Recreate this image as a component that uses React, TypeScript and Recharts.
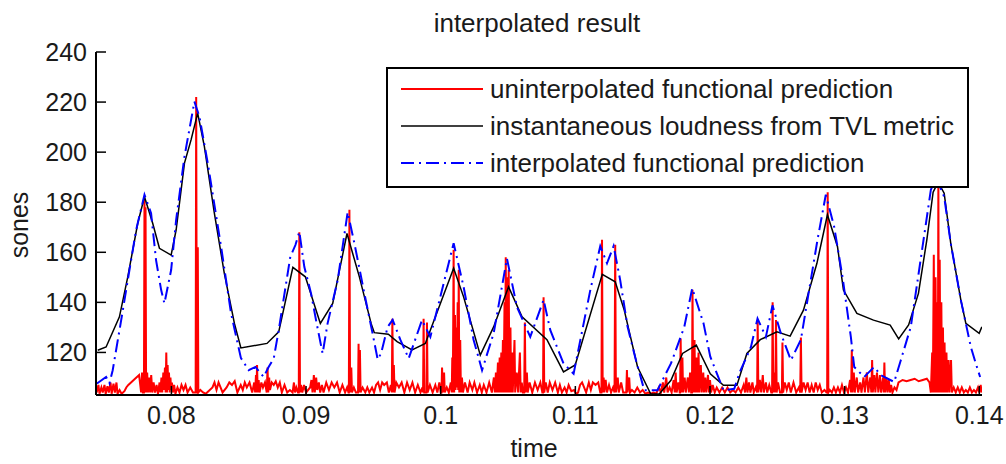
import React from 'react';
import { LineChart, Line, XAxis, YAxis, Legend } from 'recharts';

const FONT = '"Liberation Sans", Arial, Helvetica, sans-serif';

const chartTitle = 'interpolated result';
const xLabel = 'time';
const yLabel = 'sones';
const xDomain: [number, number] = [0.0744, 0.1402];
const yDomain: [number, number] = [103, 240];
const xTicks = [0.08, 0.09, 0.1, 0.11, 0.12, 0.13, 0.14];
const yTicks = [120, 140, 160, 180, 200, 220, 240];
const seriesNames = [
  'uninterpolated functional prediction',
  'instantaneous loudness from TVL metric',
  'interpolated functional prediction',
];

// [time (s), sones]
const uninterpolated: [number, number][] = [
  [0.07445,104],[0.07458,107],[0.07466,103.5],[0.07480,106],[0.07490,104],[0.07503,107],[0.07512,103.5],[0.07525,106.5],[0.07535,104],[0.07548,108],[0.07556,103.5],[0.07570,107.5],[0.07580,104],[0.07592,108],[0.07600,103.5],[0.07615,105],[0.07630,103.5],[0.07651,104.5],[0.07665,106],[0.07680,107],[0.07700,108],[0.07720,109],[0.07740,110],[0.07760,111],[0.07775,104],[0.07782,112],[0.07788,104],[0.07796,104],[0.07800,181],[0.07804,104],[0.07808,178],[0.07812,104],[0.07820,112],[0.07826,104],[0.07835,110],[0.07842,104],[0.07850,111],[0.07858,104],[0.07868,108],[0.07878,104],[0.07890,107],[0.07900,103.5],[0.07912,108],[0.07918,104],[0.07926,110],[0.07932,104],[0.07940,112],[0.07945,105],[0.07952,114],[0.07957,104],[0.07962,120],[0.07967,104],[0.07972,115],[0.07977,105],[0.07982,112],[0.07987,104],[0.07993,110],[0.07998,105],[0.08004,108],[0.08010,104],[0.08020,107],[0.08030,103.5],[0.08045,106],[0.08060,104],[0.08075,107],[0.08090,105],[0.08105,107],[0.08120,104],[0.08140,106],[0.08160,104],[0.08175,104],[0.08180,104],[0.08184,222],[0.08189,104],[0.08193,104],[0.08196,162],[0.08200,104],[0.08215,105],[0.08235,104],[0.08255,103.5],[0.08305,106],
  [0.08320,108],[0.08335,105],[0.08350,108],[0.08365,106],[0.08380,104],[0.08410,106],[0.08430,108],[0.08450,107],[0.08470,108.5],[0.08490,104],[0.08515,107],[0.08530,105],[0.08545,108],[0.08560,106],[0.08580,108],[0.08600,104],[0.08615,108],[0.08622,104],[0.08628,111],[0.08632,104],[0.08636,115],[0.08641,104],[0.08648,109],[0.08655,104],[0.08668,108],[0.08680,106],[0.08695,108],[0.08708,104],[0.08714,114],[0.08719,104],[0.08726,110],[0.08732,105],[0.08745,108],[0.08760,107],[0.08775,108.5],[0.08790,106],[0.08805,108],[0.08820,104],[0.08840,107],[0.08860,104],[0.08880,105],[0.08900,104],[0.08910,108],[0.08918,104],[0.08928,106],[0.08940,104],[0.08946,104],[0.08950,168],[0.08955,104],[0.08962,107],[0.08972,104],[0.08985,107],[0.09000,104],[0.09030,106],[0.09040,109],[0.09048,104],[0.09058,111],[0.09065,104],[0.09075,110],[0.09083,105],[0.09095,108],[0.09105,104],[0.09118,107],[0.09130,104],[0.09150,108],[0.09170,105],[0.09190,108],[0.09210,106],[0.09230,108],[0.09250,104],[0.09270,107],[0.09290,104],[0.09305,106],[0.09315,104],[0.09318,104],[0.09322,177],[0.09327,104],[0.09336,114],[0.09341,104],[0.09355,106],[0.09370,104],[0.09386,104],[0.09390,123.5],[0.09394,104],[0.09400,121],[0.09405,104],[0.09420,106],[0.09440,104],[0.09455,106],[0.09470,104],[0.09490,106],[0.09505,104],[0.09520,107],[0.09535,108],[0.09550,105],[0.09565,108],[0.09580,107],[0.09600,108],[0.09615,104],[0.09630,107],[0.09637,104],[0.09641,133.5],[0.09646,104],[0.09652,115],[0.09657,104],[0.09670,108],[0.09690,106],[0.09710,108],[0.09730,104],[0.09750,108],[0.09770,105],[0.09790,108],[0.09810,104],[0.09830,107],[0.09850,104],[0.09865,106],[0.09869,104],[0.09873,133.5],[0.09878,104],[0.09890,104],[0.09894,104],[0.09898,132],[0.09903,104],[0.09920,107],[0.09940,104],[0.09960,107],[0.09975,104],[0.09990,108],[0.10000,104],[0.10006,104],[0.10010,114],[0.10016,104],[0.10025,112],[0.10030,104],[0.10045,106],[0.10060,104],[0.10075,108],[0.10082,104],[0.10086,118],[0.10090,104],[0.10096,161],[0.10100,104],[0.10106,135],[0.10110,105],[0.10116,130],[0.10120,106],[0.10126,140],[0.10130,105],[0.10134,153],[0.10138,104],[0.10145,125],[0.10150,104],[0.10158,110],[0.10165,104],[0.10180,108],[0.10200,104],[0.10215,108],[0.10235,105],[0.10250,108],[0.10270,104],[0.10290,107],[0.10305,104],[0.10320,107],[0.10340,104],[0.10360,108],[0.10380,104],[0.10395,110],[0.10402,104],[0.10410,112],[0.10416,104],[0.10425,116],[0.10430,104],[0.10438,118],[0.10443,104],[0.10450,120],[0.10455,104],[0.10462,125],[0.10467,104],[0.10474,140],[0.10478,104],[0.10483,158],[0.10488,104],[0.10494,150],[0.10499,104],[0.10505,153],[0.10510,104],[0.10518,130],[0.10523,104],[0.10530,120],[0.10535,104],[0.10548,125],[0.10553,104],[0.10565,112],[0.10575,104],[0.10588,120],[0.10594,104],[0.10602,108],[0.10610,104],[0.10620,104],[0.10625,132],[0.10630,104],[0.10640,112],[0.10646,104],[0.10660,108],[0.10680,104],[0.10700,108],[0.10720,105],[0.10740,108],[0.10755,104],[0.10760,104],[0.10764,142],[0.10769,104],[0.10780,108],[0.10795,104],[0.10810,108],[0.10830,105],[0.10850,108],[0.10870,104],[0.10885,107],[0.10900,104],[0.10920,106],[0.10935,104],[0.10950,107],[0.10970,104.5],[0.10990,105],[0.11005,103.5],[0.11020,104],[0.11035,107],[0.11050,108],[0.11065,106],[0.11080,104],[0.11100,108],[0.11115,105],[0.11130,108],[0.11150,107],[0.11170,108],[0.11185,104],[0.11194,104],[0.11198,165],[0.11203,104],[0.11210,110],[0.11215,104],[0.11225,109],[0.11235,104],[0.11250,107],[0.11265,104],[0.11280,106],[0.11291,104],[0.11296,163],[0.11301,104],[0.11315,110],[0.11322,104],[0.11340,108],[0.11355,104],[0.11378,104],[0.11383,113],[0.11388,104],[0.11400,110],[0.11406,104],[0.11420,105],[0.11440,104],[0.11460,106],[0.11480,104],[0.11500,105],[0.11520,103.5],[0.11540,104],[0.11560,103.5],[0.11580,104],[0.11600,103.5],[0.11620,106],[0.11635,104],[0.11650,108],[0.11660,104],[0.11675,110],[0.11685,104],[0.11700,106],[0.11715,104],[0.11730,109],[0.11738,104],[0.11745,112],[0.11752,104],[0.11765,108],[0.11775,104],[0.11778,104],[0.11782,125.6],[0.11787,104],[0.11795,118],[0.11800,104],[0.11812,110],[0.11820,104],[0.11835,110],[0.11843,104],[0.11852,112],[0.11860,104],[0.11866,104],[0.11870,145],[0.11875,104],[0.11885,125],[0.11890,104],[0.11900,118],[0.11905,104],[0.11915,120],[0.11920,104],[0.11932,115],[0.11938,104],[0.11950,112],[0.11955,104],[0.11965,110],[0.11972,104],[0.11985,111],[0.11992,104],[0.12000,109],[0.12008,104],[0.12020,107],[0.12035,104],[0.12050,106],[0.12070,104],[0.12090,106],[0.12110,104],[0.12130,106],[0.12150,104],[0.12170,105],[0.12190,104],[0.12210,106],[0.12230,104],[0.12250,107],[0.12260,104],[0.12270,110],[0.12278,104],[0.12290,108],[0.12300,104],[0.12315,108],[0.12325,104],[0.12340,106],[0.12350,104],[0.12354,133],[0.12359,104],[0.12370,109],[0.12380,104],[0.12392,111],[0.12400,104],[0.12415,108],[0.12425,104],[0.12440,107],[0.12455,104],[0.12461,104],[0.12465,140],[0.12470,104],[0.12480,112],[0.12485,104],[0.12490,133],[0.12495,104],[0.12505,108],[0.12520,104],[0.12534,104],[0.12538,124],[0.12543,104],[0.12555,108],[0.12570,105],[0.12585,108],[0.12600,104],[0.12620,108],[0.12640,104],[0.12660,106],[0.12670,104],[0.12675,126],[0.12680,104],[0.12695,108],[0.12710,105],[0.12725,108],[0.12740,104],[0.12755,107],[0.12770,104],[0.12785,108],[0.12800,105],[0.12815,107],[0.12830,104],[0.12850,105],[0.12865,104],[0.12870,104],[0.12874,184],[0.12879,104],[0.12890,105],[0.12905,104],[0.12920,106],[0.12935,104],[0.12950,106],[0.12965,104],[0.12980,107],[0.12995,104],[0.13010,106],[0.13025,104],[0.13040,109],[0.13048,104],[0.13053,121],[0.13058,104],[0.13068,112],[0.13075,104],[0.13090,110],[0.13100,104],[0.13115,108],[0.13125,104],[0.13140,110],[0.13150,104],[0.13165,112],[0.13175,104],[0.13190,110],[0.13198,104],[0.13204,117],[0.13209,104],[0.13220,111],[0.13228,104],[0.13240,112],[0.13250,104],[0.13262,111],[0.13270,104],[0.13285,110],[0.13290,104],[0.13295,116],[0.13300,104],[0.13310,110],[0.13318,104],[0.13328,109],[0.13336,104],[0.13345,107],[0.13355,104],[0.13370,106],[0.13385,105],[0.13400,108],[0.13430,109],[0.13460,108.5],[0.13490,109],[0.13520,109.5],[0.13550,108.5],[0.13580,109],[0.13610,109.5],[0.13630,108],[0.13640,104],[0.13650,120],[0.13655,104],[0.13662,159],[0.13667,104],[0.13675,150],[0.13680,104],[0.13688,140],[0.13692,104],[0.13696,189],[0.13700,104],[0.13706,157],[0.13711,104],[0.13718,140],[0.13723,104],[0.13730,130],[0.13735,104],[0.13742,124],[0.13747,104],[0.13756,120],[0.13762,104],[0.13772,117],[0.13778,104],[0.13790,117],[0.13796,104],[0.13810,106],[0.13825,104],[0.13840,106],[0.13855,104],[0.13870,106],[0.13885,104],[0.13900,105],[0.13915,104],[0.13930,106],[0.13945,104],[0.13960,105],[0.13975,104],[0.13990,106],[0.14000,104],[0.14010,107],[0.14018,104],
];

const loudnessTVL: [number, number][] = [
  [0.07453,120.9],[0.07515,122.2],[0.07614,134.2],[0.07676,150.2],[0.07750,171.6],[0.07800,182.2],[0.07861,171.6],[0.07911,161.6],[0.07998,158.9],[0.08035,168.9],[0.08097,195.6],[0.08146,204.9],[0.08195,215.6],[0.08245,202.2],[0.08319,175.6],[0.08393,151.6],[0.08468,131.6],[0.08516,121.8],[0.08710,123.6],[0.08797,128.2],[0.08902,154],[0.08995,150.2],[0.09106,131.6],[0.09198,139.6],[0.09304,167.5],[0.09396,150.2],[0.09483,131.6],[0.09507,127.9],[0.09611,127.3],[0.09676,124.3],[0.09787,121],[0.09886,123.6],[0.10096,153.6],[0.10170,142.2],[0.10294,118.9],[0.10393,130.2],[0.10504,146.2],[0.10604,134.2],[0.10789,125.1],[0.10912,112.2],[0.10999,115],[0.11200,151.2],[0.11296,148.2],[0.11363,136.9],[0.11462,114.2],[0.11560,103.4],[0.11623,103.4],[0.11710,108.9],[0.11796,119.6],[0.11898,122.9],[0.12002,111.5],[0.12100,106.9],[0.12200,106.9],[0.12274,119.6],[0.12373,125.1],[0.12497,128.2],[0.12595,126.5],[0.12694,136.9],[0.12794,155.6],[0.12872,175],[0.12947,162.2],[0.12991,144.9],[0.13091,135.6],[0.13214,132.9],[0.13338,130.9],[0.13401,125.4],[0.13475,131],[0.13548,143.6],[0.13610,164.9],[0.13657,184],[0.13694,188],[0.13739,183.6],[0.13788,163.6],[0.13863,140.9],[0.13900,131.6],[0.13999,127.6],[0.14019,130.2],
];

const interpolated: [number, number][] = [
  [0.07447,107.6],[0.07515,110.2],[0.07540,107.7],[0.07564,112.9],[0.07627,132.9],[0.07676,148.9],[0.07738,168.9],[0.07800,183],[0.07849,175.6],[0.07886,156.9],[0.07924,144.9],[0.07948,139.6],[0.07998,152.9],[0.08035,172.9],[0.08097,198.2],[0.08171,220.2],[0.08208,214.2],[0.08270,195.6],[0.08369,162.2],[0.08443,135.6],[0.08516,117.8],[0.08574,112.9],[0.08624,114.2],[0.08685,110.2],[0.08722,114.2],[0.08760,117.6],[0.08797,128.9],[0.08883,158.2],[0.08921,162.9],[0.08950,168.2],[0.08987,154.2],[0.09037,143.6],[0.09074,132.9],[0.09123,119.6],[0.09160,131.6],[0.09235,148.9],[0.09309,176],[0.09359,163.6],[0.09433,143.6],[0.09494,127.6],[0.09532,117.2],[0.09557,119.6],[0.09606,130.2],[0.09643,133],[0.09700,125.1],[0.09762,117.6],[0.09861,132.9],[0.09923,126.2],[0.10096,163.6],[0.10170,146.2],[0.10244,125.1],[0.10307,112.9],[0.10393,127.6],[0.10492,157.5],[0.10566,138.2],[0.10665,126.2],[0.10764,141],[0.10814,128.9],[0.10912,115.6],[0.10987,111.5],[0.11111,144.9],[0.11185,162.5],[0.11235,155.6],[0.11284,162.5],[0.11333,148.9],[0.11388,130.2],[0.11450,116.9],[0.11512,104.9],[0.11610,104.9],[0.11710,115.6],[0.11809,130.2],[0.11868,145.6],[0.11952,131.6],[0.12002,118.3],[0.12100,104.9],[0.12180,105.5],[0.12220,112],[0.12304,122.2],[0.12353,133.5],[0.12415,126.2],[0.12464,138.8],[0.12526,127.6],[0.12601,116.9],[0.12675,125.1],[0.12724,141],[0.12798,164.9],[0.12860,183],[0.12922,170.2],[0.12984,150.2],[0.13046,126.2],[0.13071,114.2],[0.13145,110.2],[0.13219,114.2],[0.13269,110.9],[0.13368,108.2],[0.13417,116.9],[0.13491,130.2],[0.13553,152.9],[0.13640,184.9],[0.13679,190],[0.13739,182.2],[0.13788,163.6],[0.13863,140.9],[0.13937,122.2],[0.13974,115.6],[0.14006,110.2],
];

const toRows = (pts: [number, number][]) => pts.map(([t, v]) => ({ t, v }));
const redData = toRows(uninterpolated);
const blackData = toRows(loudnessTVL);
const blueData = toRows(interpolated);

const DASH = '13 5 2 5';

const YTick = (props: any) => {
  const { x, y, payload } = props;
  return (
    <g>
      <line x1={x + 9} x2={x + 19} y1={y} y2={y} stroke="#000" strokeWidth={1.5} />
      <text x={x} y={y} dy="0.36em" textAnchor="end" fontSize={25} fontFamily={FONT} fill="#1a1a1a">
        {payload.value}
      </text>
    </g>
  );
};

const XTick = (props: any) => {
  const { x, y, payload } = props;
  return (
    <g>
      <line x1={x} x2={x} y1={y - 11} y2={y - 20} stroke="#000" strokeWidth={1.5} />
      <text x={x} y={y} dy="0.72em" textAnchor="middle" fontSize={25} fontFamily={FONT} fill="#1a1a1a">
        {String(payload.value)}
      </text>
    </g>
  );
};

const LegendBox = (props: any) => {
  const raw: any[] = props.payload || [];
  const items = [...raw].sort((a, b) => seriesNames.indexOf(a.value) - seriesNames.indexOf(b.value));
  return (
    <svg width={583} height={121} style={{ display: 'block' }}>
      <rect x={1} y={1} width={581} height={119} fill="#fff" stroke="#000" strokeWidth={2} />
      {items.map((it, i) => {
        const cy = 22 + i * 37;
        return (
          <g key={i}>
            <line
              x1={15}
              x2={97}
              y1={cy}
              y2={cy}
              stroke={it.color}
              strokeWidth={it.payload?.strokeWidth || 1.5}
              strokeDasharray={it.payload?.strokeDasharray}
            />
            <text x={104} y={cy} dy="0.36em" fontSize={26} fontFamily={FONT} fill="#1a1a1a">
              {it.value}
            </text>
          </g>
        );
      })}
    </svg>
  );
};

export default function App() {
  return (
    <div style={{ position: 'absolute', left: 0, top: 0, width: 1006, height: 464, background: '#fff' }}>
      <LineChart width={1006} height={464} margin={{ top: 52, right: 24, bottom: 0, left: 56 }}>
        <XAxis
          type="number"
          dataKey="t"
          domain={xDomain}
          ticks={xTicks}
          allowDataOverflow
          interval={0}
          height={69}
          tickSize={0}
          tickMargin={11}
          tickLine={false}
          axisLine={{ stroke: '#000', strokeWidth: 2 }}
          tick={<XTick />}
        />
        <YAxis
          type="number"
          domain={yDomain}
          ticks={yTicks}
          allowDataOverflow
          interval={0}
          width={40}
          tickSize={0}
          tickMargin={9}
          tickLine={false}
          axisLine={{ stroke: '#000', strokeWidth: 2 }}
          tick={<YTick />}
        />
        <Legend
          layout="horizontal"
          verticalAlign="middle"
          align="center"
          itemSorter={null as any}
          content={<LegendBox />}
          wrapperStyle={{ position: 'absolute', left: 386, top: 67, width: 583, height: 121 }}
        />
        <Line
          data={redData}
          dataKey="v"
          name={seriesNames[0]}
          type="linear"
          stroke="#ff0000"
          strokeWidth={2}
          dot={false}
          activeDot={false}
          isAnimationActive={false}
        />
        <Line
          data={blackData}
          dataKey="v"
          name={seriesNames[1]}
          type="linear"
          stroke="#000000"
          strokeWidth={1.5}
          dot={false}
          activeDot={false}
          isAnimationActive={false}
        />
        <Line
          data={blueData}
          dataKey="v"
          name={seriesNames[2]}
          type="linear"
          stroke="#0000ff"
          strokeWidth={2}
          strokeDasharray={DASH}
          dot={false}
          activeDot={false}
          isAnimationActive={false}
        />
      </LineChart>
      <svg width={1006} height={464} style={{ position: 'absolute', left: 0, top: 0, pointerEvents: 'none' }}>
        <text x={537} y={32} textAnchor="middle" fontSize={26} fontFamily={FONT} fill="#1a1a1a">
          {chartTitle}
        </text>
        <text x={534} y={457} textAnchor="middle" fontSize={25} fontFamily={FONT} fill="#1a1a1a">
          {xLabel}
        </text>
        <text transform="translate(28,225) rotate(-90)" textAnchor="middle" fontSize={25} fontFamily={FONT} fill="#1a1a1a">
          {yLabel}
        </text>
      </svg>
    </div>
  );
}
